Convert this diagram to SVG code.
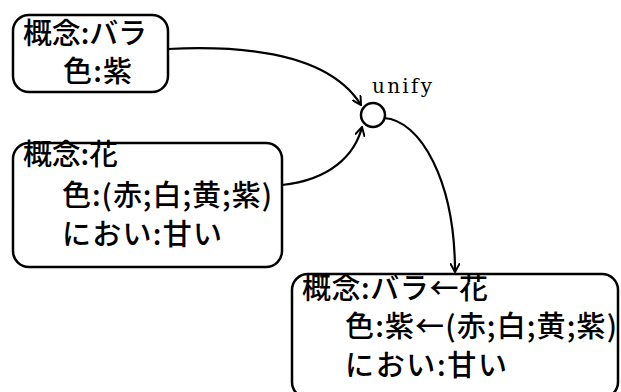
<svg xmlns="http://www.w3.org/2000/svg" width="621" height="392" viewBox="0 0 621 392">
<style>
.box{fill:#fff;stroke:#000;stroke-width:2.5}
.t{font-family:"Noto Sans CJK JP","Noto Sans",sans-serif;font-size:29px;font-weight:500;fill:#000}
.c{fill:none;stroke:#000;stroke-width:2.2}
</style>
<defs>
<marker id="arr" viewBox="0 0 10 10" refX="9" refY="5" markerWidth="10" markerHeight="10" markerUnits="userSpaceOnUse" orient="auto">
<path d="M0,0 L9,5 L0,10" fill="none" stroke="#000" stroke-width="2"/>
</marker>
</defs>
<rect width="621" height="392" fill="#fff"/>
<g id="connectors">
<path class="c" d="M168,49 C250,45 330,55 361,105" marker-end="url(#arr)"/>
<path class="c" d="M282,185 C330,180 355,155 362,127" marker-end="url(#arr)"/>
<path class="c" d="M384,118 C420,120 455,180 455,272" marker-end="url(#arr)"/>
</g>
<g id="unify">
<circle cx="373" cy="115" r="12" fill="#fff" stroke="#000" stroke-width="2.5"/>
<text x="372" y="93" font-family="DejaVu Serif,serif" font-size="20" textLength="60">unify</text>
</g>
<g id="node1">
<rect class="box" x="13" y="15" width="155" height="77" rx="16"/>
<text class="t" x="23" y="44" textLength="124">概念:バラ</text>
<text class="t" x="63" y="82" textLength="69">色:紫</text>
</g>
<g id="node2">
<rect class="box" x="13" y="143" width="269" height="124" rx="16"/>
<text class="t" x="23" y="165" textLength="95">概念:花</text>
<text class="t" x="62" y="206" textLength="210">色:(赤;白;黄;紫)</text>
<text class="t" x="62" y="245" textLength="160">におい:甘い</text>
</g>
<g id="node3">
<rect class="box" x="292" y="274" width="326" height="124" rx="16"/>
<text class="t" x="302" y="299" textLength="186">概念:バラ←花</text>
<text class="t" x="345" y="337" textLength="272">色:紫←(赤;白;黄;紫)</text>
<text class="t" x="345" y="376" textLength="162">におい:甘い</text>
</g>
</svg>
